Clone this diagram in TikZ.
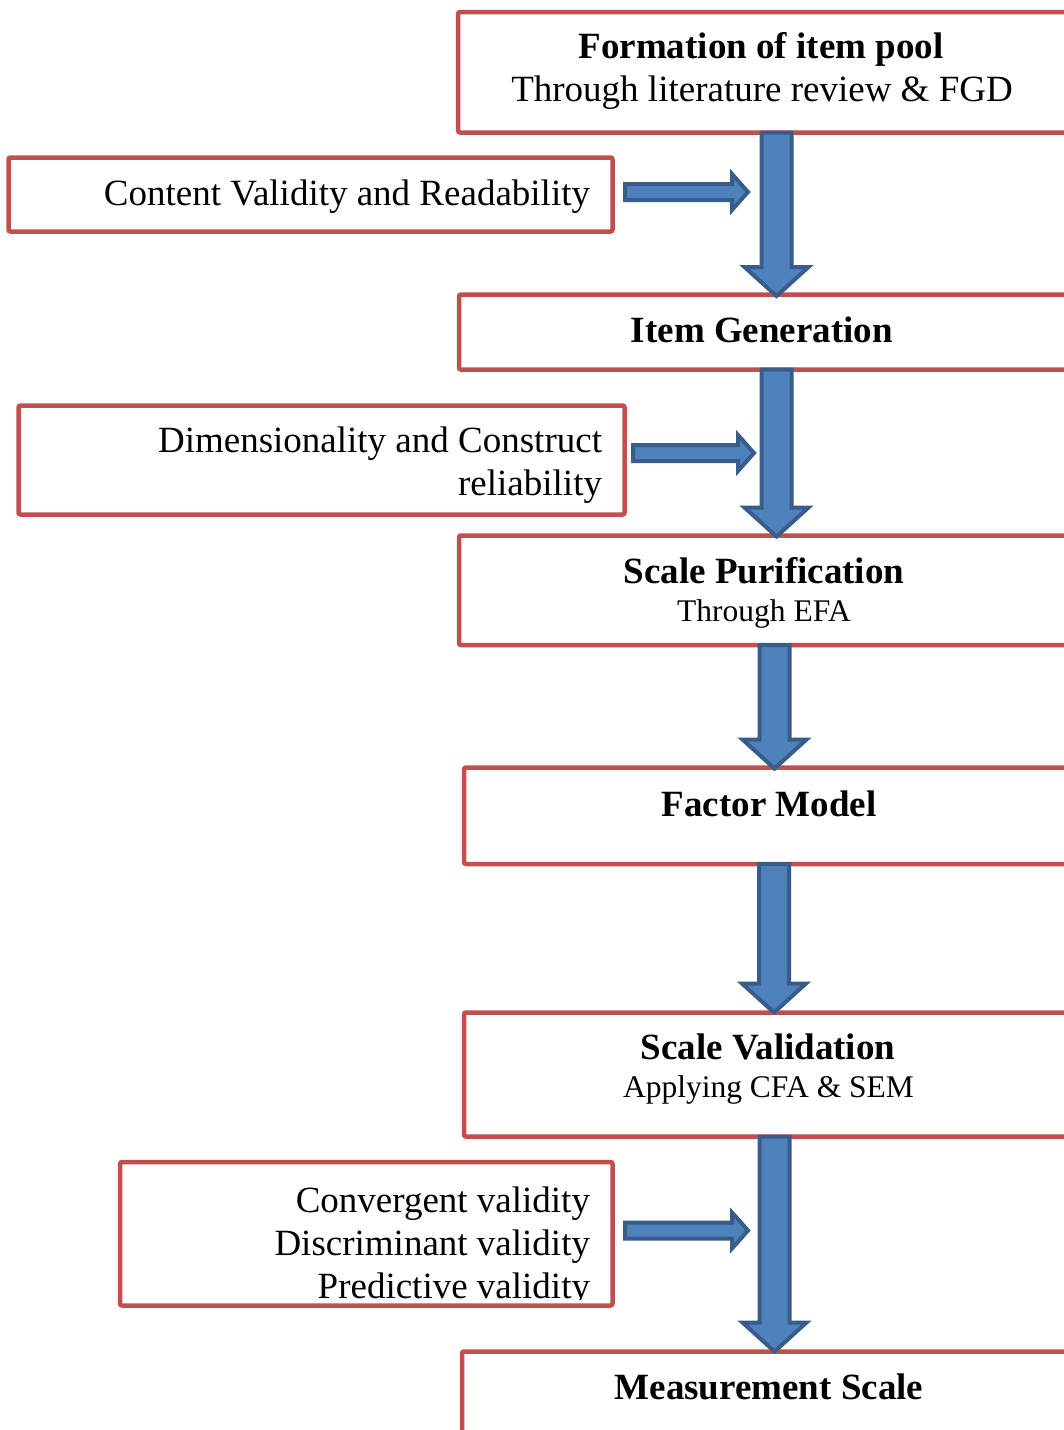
\documentclass[tikz,border=0pt]{standalone}
\usepackage{fontspec}
\setmainfont{Liberation Serif}
\usetikzlibrary{calc}

\definecolor{frameRed}{HTML}{C0504D}
\definecolor{arrowFill}{HTML}{4F81BD}
\definecolor{arrowLine}{HTML}{385D8A}

\tikzset{
  box/.style={draw=frameRed, line width=4.5pt, rounded corners=2pt,
    rectangle, inner sep=0pt, outer sep=0pt, fill=white},
  big/.style={font=\fontsize{37}{43}\selectfont, inner sep=0pt, outer sep=0pt},
  small/.style={font=\fontsize{31.5}{37}\selectfont, inner sep=0pt, outer sep=0pt},
  blockarrow/.style={draw=arrowLine, fill=arrowFill, line width=4pt, line join=miter},
  % thick downward block arrow: start = top of shaft (centre), target = tip
  downblock/.style={blockarrow, to path={
    let \p1=(\tikztostart), \p2=(\tikztotarget) in
    (\x1-15pt,\y1) -- (\x1+15pt,\y1) -- (\x1+15pt,\y2+29pt) -- (\x1+32pt,\y2+29pt)
    -- (\x1,\y2) -- (\x1-32pt,\y2+29pt) -- (\x1-15pt,\y2+29pt) -- cycle}},
  % thin rightward block arrow: start = tail (centre), target = tip
  rightblock/.style={blockarrow, to path={
    let \p1=(\tikztostart), \p2=(\tikztotarget) in
    (\x1,\y1+8pt) -- (\x2-16pt,\y1+8pt) -- (\x2-16pt,\y1+18pt) -- (\x2,\y1)
    -- (\x2-16pt,\y1-18pt) -- (\x2-16pt,\y1-8pt) -- (\x1,\y1-8pt) -- cycle}},
}

\begin{document}
\begin{tikzpicture}[x=1pt, y=-1pt]
\useasboundingbox (0,0) rectangle (1064,1430);
\clip (0,0) rectangle (1064,1430);

% main flow boxes (they run past the right margin)
\node[box, minimum width=610pt, minimum height=120.5pt] (b1) at (763,72.25) {};
\node[box, minimum width=609pt, minimum height=75pt]    (b2) at (763.5,332) {};
\node[box, minimum width=609pt, minimum height=109.5pt] (b3) at (763.5,590.25) {};
\node[box, minimum width=610pt, minimum height=96.5pt]  (b4) at (769,815.75) {};
\node[box, minimum width=610pt, minimum height=124pt]   (b5) at (769,1074.5) {};
\node[box, minimum width=612pt, minimum height=168.5pt] (b6) at (768,1435.75) {};

% side boxes
\node[box, minimum width=604pt, minimum height=74pt]    (l1) at (310.5,194.5) {};
\node[box, minimum width=606pt, minimum height=109pt]   (l2) at (321.5,460) {};
\node[box, minimum width=492.5pt, minimum height=143.5pt] (l3) at (366.25,1233.75) {};

% labels of the main boxes
\node[big, anchor=base] (t1a) at (761,58) {\textbf{Formation of item pool}};
\node[big, anchor=base] (t1b) at (762,101) {Through literature review \& FGD};
\node[big, anchor=base] (t2)  at (762,342) {\textbf{Item Generation}};
\node[big, anchor=base] (t3a) at (764,583) {\textbf{Scale Purification}};
\node[small, anchor=base] (t3b) at (764,621) {Through EFA};
\node[big, anchor=base] (t4)  at (769,816) {\textbf{Factor Model}};
\node[big, anchor=base] (t5a) at (768,1059) {\textbf{Scale Validation}};
\node[small, anchor=base] (t5b) at (768.5,1097) {Applying CFA \& SEM};
\node[big, anchor=base] (t6)  at (769,1399) {\textbf{Measurement Scale}};

% labels of the side boxes
\node[big, anchor=base east] (s1)  at (590,205) {Content Validity and Readability};
\node[big, anchor=base east] (s2a) at (602,452) {Dimensionality and Construct};
\node[big, anchor=base east] (s2b) at (602,495) {reliability};
\node[big, anchor=base east] (s3a) at (590,1212) {Convergent validity};
\node[big, anchor=base east] (s3b) at (590,1255) {Discriminant validity};
\begin{scope}
  \clip (100,1150) rectangle (610,1299);
  \node[big, anchor=base east] (s3c) at (590,1298) {Predictive validity};
\end{scope}

% centre lines of the vertical arrows
\coordinate (v1) at (776.5,0);
\coordinate (v2) at (776.5,0);
\coordinate (v3) at (774.5,0);
\coordinate (v4) at (774,0);
\coordinate (v5) at (774.5,0);

% tips of the side arrows
\coordinate (h1) at (748,192);
\coordinate (h2) at (754,453);
\coordinate (h3) at (748,1230.5);

% vertical flow arrows
\draw[downblock] (b1.south -| v1) to ([yshift=-1.5pt]b2.north -| v1);
\draw[downblock] (b2.south -| v2) to ([yshift=-1pt]b3.north -| v2);
\draw[downblock] (b3.south -| v3) to ([yshift=-1pt]b4.north -| v3);
\draw[downblock] (b4.south -| v4) to (b5.north -| v4);
\draw[downblock] (b5.south -| v5) to (b6.north -| v5);

% side arrows
\draw[rightblock] ([xshift=12.5pt]l1.east |- h1) to (h1);
\draw[rightblock] ([xshift=8.5pt]l2.east |- h2) to (h2);
\draw[rightblock] ([xshift=12.5pt]l3.east |- h3) to (h3);
\end{tikzpicture}
\end{document}
